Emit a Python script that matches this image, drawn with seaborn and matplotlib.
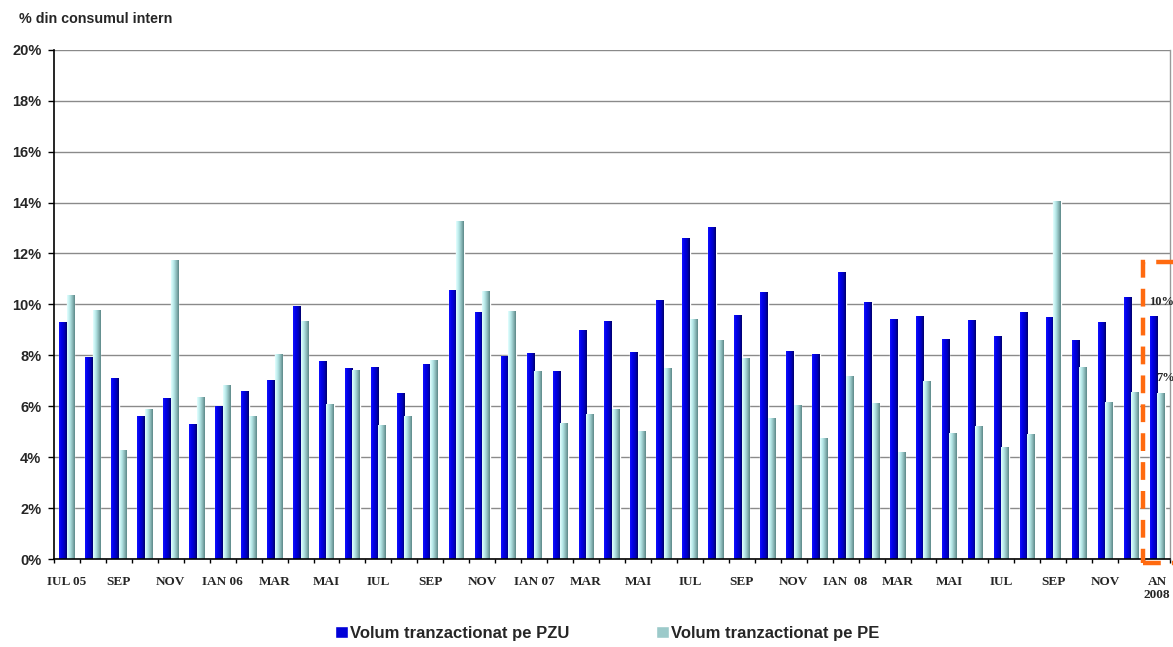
import numpy as np
import pandas as pd
import matplotlib
matplotlib.use("Agg")
import matplotlib.pyplot as plt
import seaborn as sns
from matplotlib.colors import LinearSegmentedColormap
from matplotlib.patches import Patch, Rectangle
from matplotlib.ticker import FuncFormatter

# ----------------------------
# Data (% din consumul intern)
# ----------------------------

months = [
    "IUL 05", "AUG 05", "SEP 05", "OCT 05", "NOV 05", "DEC 05",
    "IAN 06", "FEB 06", "MAR 06", "APR 06", "MAI 06", "IUN 06",
    "IUL 06", "AUG 06", "SEP 06", "OCT 06", "NOV 06", "DEC 06",
    "IAN 07", "FEB 07", "MAR 07", "APR 07", "MAI 07", "IUN 07",
    "IUL 07", "AUG 07", "SEP 07", "OCT 07", "NOV 07", "DEC 07",
    "IAN 08", "FEB 08", "MAR 08", "APR 08", "MAI 08", "IUN 08",
    "IUL 08", "AUG 08", "SEP 08", "OCT 08", "NOV 08", "DEC 08",
    "AN 2008",
]

tick_labels = [
    "IUL 05", "", "SEP", "", "NOV", "", "IAN 06", "", "MAR", "", "MAI", "",
    "IUL", "", "SEP", "", "NOV", "", "IAN 07", "", "MAR", "", "MAI", "",
    "IUL", "", "SEP", "", "NOV", "", "IAN  08", "", "MAR", "", "MAI", "",
    "IUL", "", "SEP", "", "NOV", "", "AN\n2008",
]

pzu = [
    9.29, 7.92, 7.09, 5.58, 6.31, 5.29, 6.00, 6.58, 7.02, 9.92, 7.76, 7.49,
    7.53, 6.51, 7.64, 10.55, 9.69, 7.96, 8.08, 7.37, 8.98, 9.33, 8.12, 10.16,
    12.59, 13.02, 9.57, 10.47, 8.15, 8.04, 11.26, 10.08, 9.41, 9.53, 8.63, 9.37,
    8.74, 9.69, 9.49, 8.59, 9.29, 10.27, 9.53,
]

pe = [
    10.35, 9.76, 4.25, 5.88, 11.73, 6.35, 6.82, 5.60, 8.04, 9.33, 6.07, 7.41,
    5.25, 5.60, 7.80, 13.26, 10.51, 9.73, 7.37, 5.33, 5.68, 5.88, 5.01, 7.49,
    9.41, 8.59, 7.88, 5.52, 6.03, 4.74, 7.17, 6.11, 4.19, 6.98, 4.93, 5.21,
    4.38, 4.90, 14.04, 7.53, 6.15, 6.54, 6.51,
]

series = ["Volum tranzactionat pe PZU", "Volum tranzactionat pe PE"]

df = pd.DataFrame({
    "luna": months * 2,
    "serie": [series[0]] * len(months) + [series[1]] * len(months),
    "valoare": pzu + pe,
})

# ----------------------------
# Style
# ----------------------------

sns.set_theme(style="white")
plt.rcParams["font.family"] = ["Liberation Sans", "DejaVu Sans"]

solid = ["#0000D8", "#9CCACA"]
grads = [
    LinearSegmentedColormap.from_list("pzu", ["#1010FF", "#0000E6", "#0000C0", "#00006A"]),
    LinearSegmentedColormap.from_list("pe", ["#E4FFFF", "#B8EAEA", "#8FBDBD", "#5C8888"]),
]

fig = plt.figure(figsize=(11.73, 6.47), dpi=100)
ax = fig.add_axes([0.046, 0.136, 0.9515, 0.787])

sns.barplot(
    data=df,
    x="luna",
    y="valoare",
    hue="serie",
    order=months,
    hue_order=series,
    palette=solid,
    width=0.58,
    gap=0,
    legend=False,
    ax=ax,
)

# horizontal gradient on each bar
ramp = np.linspace(0, 1, 64).reshape(1, -1)
for cont, cmap in zip(ax.containers, grads):
    for bar in cont:
        x0, w, h = bar.get_x(), bar.get_width(), bar.get_height()
        ax.imshow(ramp, extent=[x0, x0 + w, 0, h], aspect="auto",
                  cmap=cmap, interpolation="bilinear", zorder=2.5)

ax.set_xlim(-0.5, len(months) - 0.5)
ax.set_ylim(0, 20)

# axes / grid
ax.set_yticks(np.arange(0, 21, 2))
ax.yaxis.set_major_formatter(FuncFormatter(lambda v, p: f"{v:.0f}%"))
ax.grid(axis="y", color="#8a8a8a", linewidth=1.0)
ax.set_axisbelow(True)
for side in ["left", "bottom"]:
    ax.spines[side].set_color("black")
    ax.spines[side].set_linewidth(1.2)
ax.spines["top"].set_visible(False)
ax.spines["right"].set_color("#9a9a9a")
ax.spines["right"].set_linewidth(1.0)

ax.tick_params(axis="y", which="major", left=True, length=4, width=1,
               color="black", pad=5, labelsize=10.5)
for lbl in ax.get_yticklabels():
    lbl.set_fontweight("bold")

# boundaries as major ticks, labels at group centres (minor)
ax.set_xticks(np.arange(-0.5, len(months), 1.0))
ax.set_xticklabels([])
ax.tick_params(axis="x", which="major", bottom=True, length=3, width=1, color="black")
ax.set_xticks(np.arange(len(months)), minor=True)
ax.set_xticklabels(tick_labels, minor=True, fontfamily="Liberation Serif",
                   fontweight="bold", fontsize=9.5, linespacing=1.15)
ax.tick_params(axis="x", which="minor", length=0, pad=12)
ax.set_xlabel("")
ax.set_ylabel("")

# highlight for the 2008 average
ax.add_patch(Rectangle((41.47, -0.16), 2.2, 11.82, fill=False,
                       edgecolor="#FF6A10", linewidth=3.2,
                       linestyle=(0, (4, 2.5)), clip_on=False, zorder=4))
ax.text(41.68, 10.1, f"{round(pzu[-1])}%", fontfamily="Liberation Serif",
        fontweight="bold", fontsize=9, va="center", ha="left", zorder=5)
ax.text(41.95, 7.1, f"{round(pe[-1])}%", fontfamily="Liberation Serif",
        fontweight="bold", fontsize=9, va="center", ha="left", zorder=5)

fig.text(0.016, 0.971, "% din consumul intern", fontsize=10.3,
         fontweight="bold", va="center", ha="left")

handles = [Patch(facecolor=solid[0]), Patch(facecolor=solid[1])]
fig.legend(handles, series, loc="center", bbox_to_anchor=(0.518, 0.021),
           ncol=2, frameon=False, handlelength=0.75, handleheight=0.75,
           handletextpad=0.15, columnspacing=5.2,
           prop={"weight": "bold", "size": 12})

fig.savefig("out.png", dpi=100)
plt.close(fig)
